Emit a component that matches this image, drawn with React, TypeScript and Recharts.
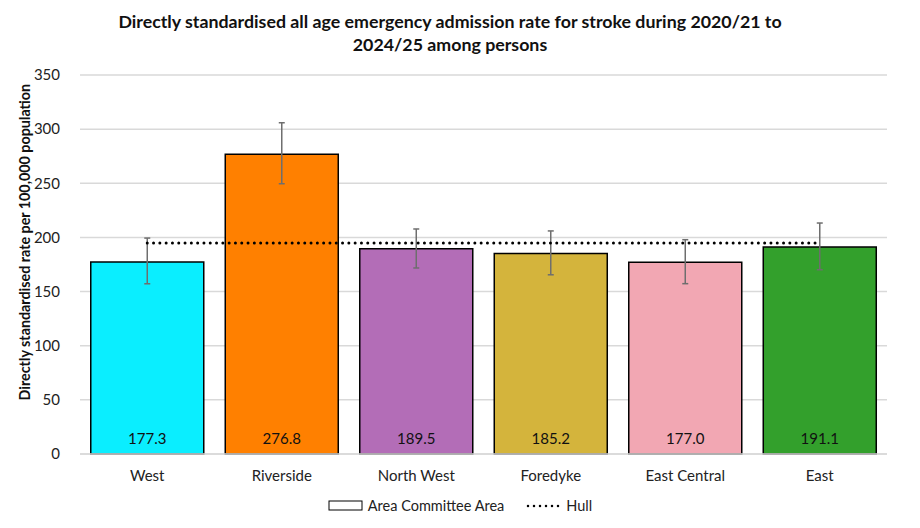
import {
  ComposedChart,
  Bar,
  Line,
  XAxis,
  YAxis,
  CartesianGrid,
  ErrorBar,
  LabelList,
  Cell,
} from "recharts";

const areas = ["West", "Riverside", "North West", "Foredyke", "East Central", "East"];
const rates = [177.3, 276.8, 189.5, 185.2, 177.0, 191.1];
const lowerCI = [157.2, 249.6, 171.8, 165.5, 157.3, 170.2];
const upperCI = [199.4, 305.9, 207.8, 206.0, 197.9, 213.3];
const hullRate = 194.9;
const barColours = ["#0AEEFF", "#FF8000", "#B36DB7", "#D4B43C", "#F2A7B3", "#33A02C"];
const yTicks = [0, 50, 100, 150, 200, 250, 300, 350];

const FONT = "Lato, 'Open Sans', sans-serif";

const data = areas.map((area, i) => ({
  area,
  rate: rates[i],
  err: [+(rates[i] - lowerCI[i]).toFixed(1), +(upperCI[i] - rates[i]).toFixed(1)],
  hull: hullRate,
}));

function LegendRow() {
  return (
    <div
      style={{
        position: "absolute",
        top: 497,
        left: 0,
        width: 920,
        display: "flex",
        justifyContent: "center",
        alignItems: "center",
        gap: 22,
        fontFamily: FONT,
        fontSize: 14.5,
        color: "#222",
      }}
    >
      <span style={{ display: "flex", alignItems: "center", gap: 4 }}>
        <svg width={36} height={12}>
          <rect x={1} y={1} width={33} height={9} fill="#fff" stroke="#000" strokeWidth={1} />
        </svg>
        Area Committee Area
      </span>
      <span style={{ display: "flex", alignItems: "center", gap: 4 }}>
        <svg width={36} height={12}>
          <line
            x1={2}
            y1={6}
            x2={34}
            y2={6}
            stroke="#000"
            strokeWidth={2.5}
            strokeDasharray="0 6"
            strokeLinecap="round"
          />
        </svg>
        Hull
      </span>
    </div>
  );
}

export default function App() {
  return (
    <div style={{ position: "absolute", left: 0, top: 0, width: 920, height: 528, background: "#fff" }}>
      <div
        style={{
          position: "absolute",
          top: 10,
          left: 0,
          width: 900,
          textAlign: "center",
          fontFamily: FONT,
          fontWeight: 700,
          fontSize: 17.8,
          lineHeight: "23px",
          color: "#111",
        }}
      >
        Directly standardised all age emergency admission rate for stroke during 2020/21 to
        <br />
        2024/25 among persons
      </div>
      <ComposedChart
        width={920}
        height={528}
        data={data}
        margin={{ top: 75, right: 33, bottom: 44, left: 40 }}
        barCategoryGap="8%"
      >
        <CartesianGrid stroke="#d9d9d9" strokeWidth={1.5} vertical={false} />
        <XAxis
          dataKey="area"
          axisLine={{ stroke: "#d9d9d9", strokeWidth: 1.5 }}
          tickLine={false}
          tick={{ fontFamily: FONT, fontSize: 15, fill: "#222" }}
          tickMargin={10}
        />
        <YAxis
          domain={[0, 350]}
          ticks={yTicks}
          width={40}
          axisLine={false}
          tickLine={false}
          tick={{ fontFamily: FONT, fontSize: 15, fill: "#222" }}
          tickMargin={14}
          label={{
            value: "Directly standardised rate per 100,000 population",
            angle: -90,
            position: "insideLeft",
            dx: -20,
            dy: 136,
            style: { fontFamily: FONT, fontSize: 14.3, fontWeight: 700, fill: "#111" },
          }}
        />
        <Bar dataKey="rate" stroke="#000" strokeWidth={1.5} isAnimationActive={false}>
          {data.map((d, i) => (
            <Cell key={d.area} fill={barColours[i]} />
          ))}
          <LabelList
            dataKey="rate"
            position="insideBottom"
            offset={10}
            formatter={(v: number) => v.toFixed(1)}
            style={{ fontFamily: FONT, fontSize: 15, fill: "#111" }}
          />
          <ErrorBar dataKey="err" width={3} stroke="#6e6e6e" strokeWidth={1.5} direction="y" />
        </Bar>
        <Line
          dataKey="hull"
          stroke="#000"
          strokeWidth={3}
          strokeDasharray="0 6.3"
          strokeLinecap="round"
          dot={false}
          activeDot={false}
          isAnimationActive={false}
        />
      </ComposedChart>
      <LegendRow />
    </div>
  );
}
